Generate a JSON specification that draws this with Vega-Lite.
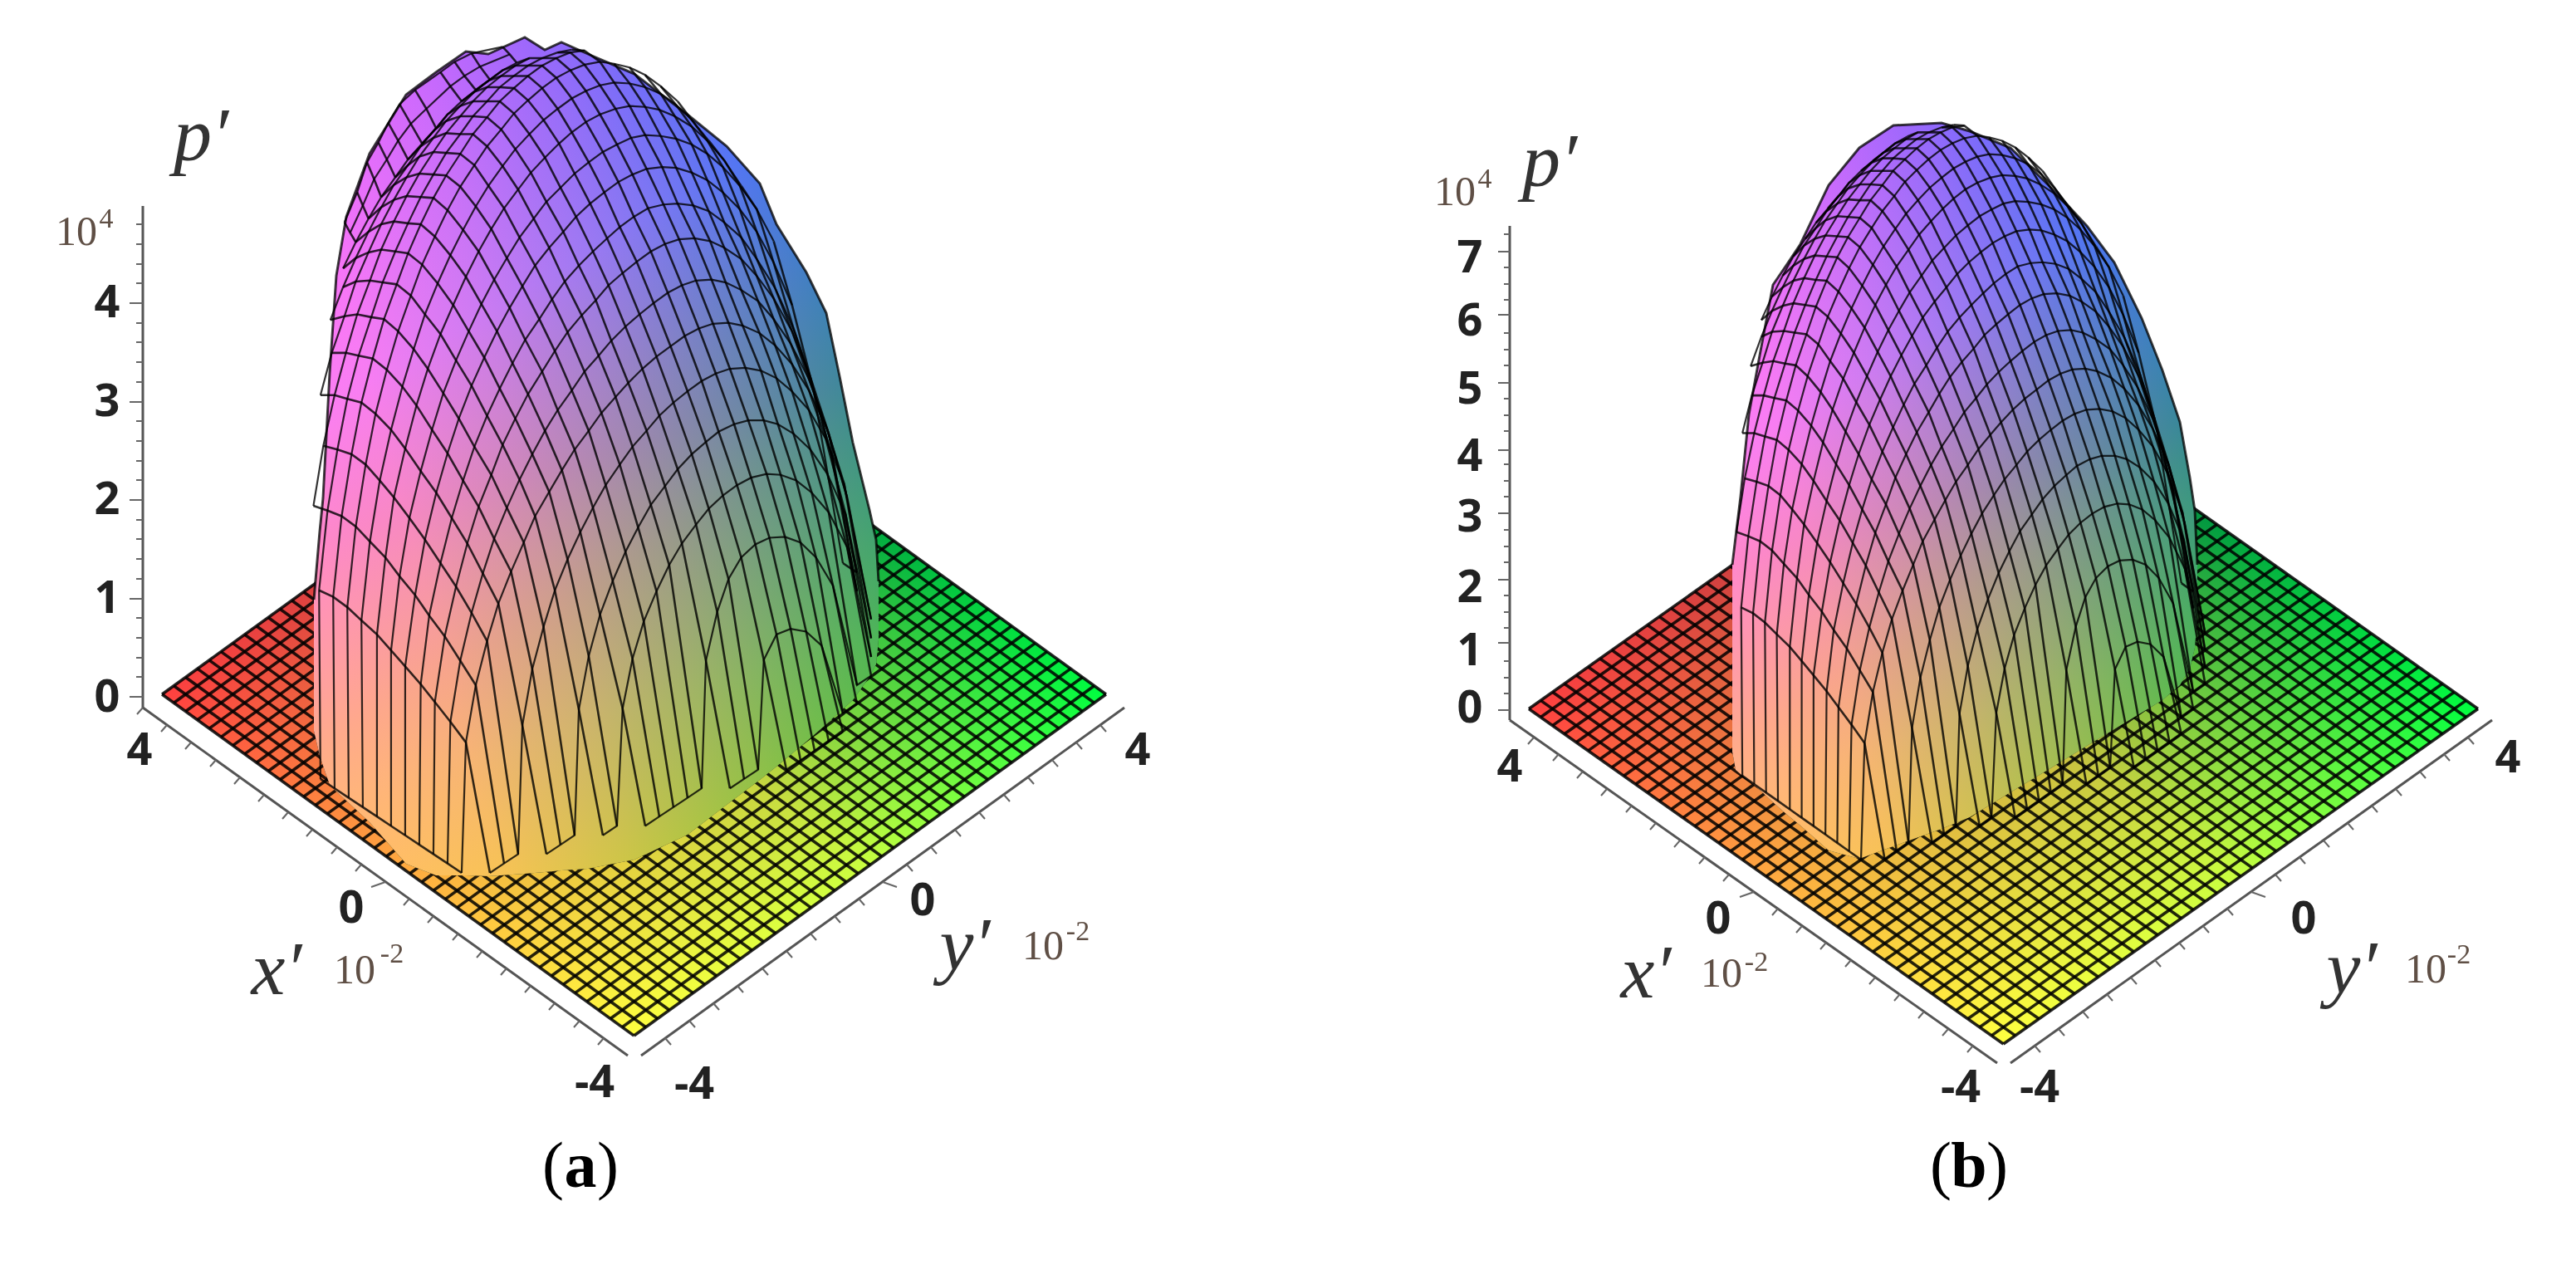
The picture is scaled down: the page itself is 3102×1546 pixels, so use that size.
{"$schema":"https://vega.github.io/schema/vega-lite/v6.json","width":3102,"height":1546,"autosize":{"type":"fit","contains":"padding"},"padding":0,"background":"white","config":{"view":{"stroke":null}},
"datasets":{
"fl":[{"u":-40,"v":0,"v2":0},{"u":0,"v":40,"v2":-40},{"u":40,"v":0,"v2":0}],
"grid":[{"u":0,"v":-40,"u2":40,"v2":0},{"u":-1,"v":-39,"u2":39,"v2":1},{"u":-2,"v":-38,"u2":38,"v2":2},{"u":-3,"v":-37,"u2":37,"v2":3},{"u":-4,"v":-36,"u2":36,"v2":4},{"u":-5,"v":-35,"u2":35,"v2":5},{"u":-6,"v":-34,"u2":34,"v2":6},{"u":-7,"v":-33,"u2":33,"v2":7},{"u":-8,"v":-32,"u2":32,"v2":8},{"u":-9,"v":-31,"u2":31,"v2":9},{"u":-10,"v":-30,"u2":30,"v2":10},{"u":-11,"v":-29,"u2":29,"v2":11},{"u":-12,"v":-28,"u2":28,"v2":12},{"u":-13,"v":-27,"u2":27,"v2":13},{"u":-14,"v":-26,"u2":26,"v2":14},{"u":-15,"v":-25,"u2":25,"v2":15},{"u":-16,"v":-24,"u2":24,"v2":16},{"u":-17,"v":-23,"u2":23,"v2":17},{"u":-18,"v":-22,"u2":22,"v2":18},{"u":-19,"v":-21,"u2":21,"v2":19},{"u":-20,"v":-20,"u2":20,"v2":20},{"u":-21,"v":-19,"u2":19,"v2":21},{"u":-22,"v":-18,"u2":18,"v2":22},{"u":-23,"v":-17,"u2":17,"v2":23},{"u":-24,"v":-16,"u2":16,"v2":24},{"u":-25,"v":-15,"u2":15,"v2":25},{"u":-26,"v":-14,"u2":14,"v2":26},{"u":-27,"v":-13,"u2":13,"v2":27},{"u":-28,"v":-12,"u2":12,"v2":28},{"u":-29,"v":-11,"u2":11,"v2":29},{"u":-30,"v":-10,"u2":10,"v2":30},{"u":-31,"v":-9,"u2":9,"v2":31},{"u":-32,"v":-8,"u2":8,"v2":32},{"u":-33,"v":-7,"u2":7,"v2":33},{"u":-34,"v":-6,"u2":6,"v2":34},{"u":-35,"v":-5,"u2":5,"v2":35},{"u":-36,"v":-4,"u2":4,"v2":36},{"u":-37,"v":-3,"u2":3,"v2":37},{"u":-38,"v":-2,"u2":2,"v2":38},{"u":-39,"v":-1,"u2":1,"v2":39},{"u":-40,"v":0,"u2":0,"v2":40},
{"u":0,"v":-40,"u2":-40,"v2":0},{"u":1,"v":-39,"u2":-39,"v2":1},{"u":2,"v":-38,"u2":-38,"v2":2},{"u":3,"v":-37,"u2":-37,"v2":3},{"u":4,"v":-36,"u2":-36,"v2":4},{"u":5,"v":-35,"u2":-35,"v2":5},{"u":6,"v":-34,"u2":-34,"v2":6},{"u":7,"v":-33,"u2":-33,"v2":7},{"u":8,"v":-32,"u2":-32,"v2":8},{"u":9,"v":-31,"u2":-31,"v2":9},{"u":10,"v":-30,"u2":-30,"v2":10},{"u":11,"v":-29,"u2":-29,"v2":11},{"u":12,"v":-28,"u2":-28,"v2":12},{"u":13,"v":-27,"u2":-27,"v2":13},{"u":14,"v":-26,"u2":-26,"v2":14},{"u":15,"v":-25,"u2":-25,"v2":15},{"u":16,"v":-24,"u2":-24,"v2":16},{"u":17,"v":-23,"u2":-23,"v2":17},{"u":18,"v":-22,"u2":-22,"v2":18},{"u":19,"v":-21,"u2":-21,"v2":19},{"u":20,"v":-20,"u2":-20,"v2":20},{"u":21,"v":-19,"u2":-19,"v2":21},{"u":22,"v":-18,"u2":-18,"v2":22},{"u":23,"v":-17,"u2":-17,"v2":23},{"u":24,"v":-16,"u2":-16,"v2":24},{"u":25,"v":-15,"u2":-15,"v2":25},{"u":26,"v":-14,"u2":-14,"v2":26},{"u":27,"v":-13,"u2":-13,"v2":27},{"u":28,"v":-12,"u2":-12,"v2":28},{"u":29,"v":-11,"u2":-11,"v2":29},{"u":30,"v":-10,"u2":-10,"v2":30},{"u":31,"v":-9,"u2":-9,"v2":31},{"u":32,"v":-8,"u2":-8,"v2":32},{"u":33,"v":-7,"u2":-7,"v2":33},{"u":34,"v":-6,"u2":-6,"v2":34},{"u":35,"v":-5,"u2":-5,"v2":35},{"u":36,"v":-4,"u2":-4,"v2":36},{"u":37,"v":-3,"u2":-3,"v2":37},{"u":38,"v":-2,"u2":-2,"v2":38},{"u":39,"v":-1,"u2":-1,"v2":39},{"u":40,"v":0,"u2":0,"v2":40}],
"mesh":[
{"i":2,"j":-9,"x":11,"y":-7},{"i":3,"j":-9,"x":12,"y":-6},{"i":4,"j":-9,"x":13,"y":-5},{"i":5,"j":-9,"x":14,"y":-4},{"i":6,"j":-9,"x":15,"y":-3},
{"i":-1,"j":-8,"x":7,"y":-9},{"i":0,"j":-8,"x":8,"y":-8},{"i":8,"j":-8,"x":16,"y":0},{"i":-6,"j":-7,"x":1,"y":-13},{"i":-5,"j":-7,"x":2,"y":-12},{"i":-4,"j":-7,"x":3,"y":-11},{"i":-3,"j":-7,"x":4,"y":-10},{"i":10,"j":-7,"x":17,"y":3},{"i":-8,"j":-6,"x":-2,"y":-14},{"i":-11,"j":-5,"x":-6,"y":-16},{"i":-10,"j":-5,"x":-5,"y":-15},{"i":-14,"j":-4,"x":-10,"y":-18},{"i":-13,"j":-4,"x":-9,"y":-17},
{"i":-15,"j":-3,"x":-12,"y":-18},{"i":-15,"j":-2,"x":-13,"y":-17},{"i":-15,"j":-1,"x":-14,"y":-16},{"i":-15,"j":0,"x":-15,"y":-15},{"i":-15,"j":1,"x":-16,"y":-14},{"i":-15,"j":2,"x":-17,"y":-13},{"i":-15,"j":3,"x":-18,"y":-12},{"i":-15,"j":4,"x":-19,"y":-11},{"i":-15,"j":5,"x":-20,"y":-10},{"i":-15,"j":6,"x":-21,"y":-9},{"i":-15,"j":7,"x":-22,"y":-8},
{"i":15,"j":-1,"x":16,"y":14},{"i":14,"j":0,"x":12.9,"y":33.6},{"i":15,"j":0,"x":15,"y":15},{"i":13,"j":1,"x":10.1,"y":47},{"i":14,"j":1,"x":11.4,"y":42.5},{"i":12,"j":2,"x":7.7,"y":55.2},{"i":13,"j":2,"x":8.9,"y":52.7},{"i":14,"j":2,"x":10.1,"y":49.3},{"i":11,"j":3,"x":5.4,"y":60},{"i":12,"j":3,"x":6.6,"y":57.9},{"i":13,"j":3,"x":7.8,"y":55.2},{"i":10,"j":4,"x":3.2,"y":63.8},{"i":11,"j":4,"x":4.3,"y":62.2},{"i":12,"j":4,"x":5.5,"y":60},{"i":9,"j":5,"x":1,"y":67},{"i":10,"j":5,"x":2.1,"y":65.8},{"i":11,"j":5,"x":3.3,"y":64.2},
{"i":2,"j":9,"x":-10.1,"y":66.4},{"i":3,"j":9,"x":-9.1,"y":67.5},{"i":4,"j":9,"x":-8.1,"y":68.3},{"i":-1,"j":10,"x":-13.9,"y":61.2},{"i":0,"j":10,"x":-13,"y":62.8},{"i":1,"j":10,"x":-12,"y":64.2},{"i":2,"j":10,"x":-11,"y":65.4},{"i":3,"j":10,"x":-10,"y":66.5},{"i":-4,"j":11,"x":-17.7,"y":54},{"i":-3,"j":11,"x":-16.7,"y":56.1},{"i":-2,"j":11,"x":-15.8,"y":58},{"i":-1,"j":11,"x":-14.8,"y":59.7},{"i":0,"j":11,"x":-13.8,"y":61.3},
{"i":1,"j":-8,"x":9,"y":-7},{"i":2,"j":-8,"x":9.4,"y":4.7},{"i":3,"j":-8,"x":10.3,"y":7.4},{"i":4,"j":-8,"x":11.3,"y":8},{"i":5,"j":-8,"x":12.4,"y":7.7},{"i":6,"j":-8,"x":13.5,"y":6.2},{"i":7,"j":-8,"x":15,"y":-1},
{"i":-2,"j":-7,"x":5,"y":-9},{"i":-1,"j":-7,"x":5.3,"y":4.6},{"i":0,"j":-7,"x":6.1,"y":9.8},{"i":1,"j":-7,"x":6.9,"y":13.3},{"i":2,"j":-7,"x":7.8,"y":15.6},{"i":3,"j":-7,"x":8.8,"y":17},{"i":4,"j":-7,"x":9.8,"y":17.7},{"i":5,"j":-7,"x":10.9,"y":17.8},{"i":6,"j":-7,"x":12,"y":17.2},{"i":7,"j":-7,"x":13.1,"y":15.6},{"i":8,"j":-7,"x":14.3,"y":12.6},{"i":9,"j":-7,"x":16,"y":2},
{"i":-7,"j":-6,"x":-1,"y":-13},{"i":-6,"j":-6,"x":-0.6,"y":-0.5},{"i":-5,"j":-6,"x":0.1,"y":4.8},{"i":-4,"j":-6,"x":0.9,"y":8.8},{"i":-3,"j":-6,"x":1.8,"y":12},{"i":-2,"j":-6,"x":2.7,"y":14.8},{"i":-1,"j":-6,"x":3.6,"y":17.1},{"i":0,"j":-6,"x":4.6,"y":19.1},{"i":1,"j":-6,"x":5.5,"y":20.8},{"i":2,"j":-6,"x":6.5,"y":22.2},{"i":3,"j":-6,"x":7.5,"y":23.3},{"i":4,"j":-6,"x":8.5,"y":24.1},{"i":5,"j":-6,"x":9.6,"y":24.5},{"i":6,"j":-6,"x":10.6,"y":24.4},{"i":7,"j":-6,"x":11.7,"y":23.8},{"i":8,"j":-6,"x":12.8,"y":22.5},{"i":9,"j":-6,"x":14,"y":20.4},{"i":10,"j":-6,"x":15.3,"y":16.7},{"i":11,"j":-6,"x":17,"y":5},
{"i":-9,"j":-5,"x":-4,"y":-14},{"i":-8,"j":-5,"x":-3.7,"y":-0.6},{"i":-7,"j":-5,"x":-3,"y":5.1},{"i":-6,"j":-5,"x":-2.2,"y":9.5},{"i":-5,"j":-5,"x":-1.3,"y":13.1},{"i":-4,"j":-5,"x":-0.4,"y":16.2},{"i":-3,"j":-5,"x":0.5,"y":18.8},{"i":-2,"j":-5,"x":1.4,"y":21.2},{"i":-1,"j":-5,"x":2.4,"y":23.2},{"i":0,"j":-5,"x":3.3,"y":25},{"i":1,"j":-5,"x":4.3,"y":26.6},{"i":2,"j":-5,"x":5.3,"y":27.9},{"i":3,"j":-5,"x":6.2,"y":29},{"i":4,"j":-5,"x":7.3,"y":29.8},{"i":5,"j":-5,"x":8.3,"y":30.2},{"i":6,"j":-5,"x":9.4,"y":30.2},{"i":7,"j":-5,"x":10.4,"y":29.8},{"i":8,"j":-5,"x":11.5,"y":28.8},{"i":9,"j":-5,"x":12.7,"y":27.1},{"i":10,"j":-5,"x":13.9,"y":24.5},{"i":11,"j":-5,"x":15.2,"y":20.2},{"i":12,"j":-5,"x":17,"y":7},
{"i":-12,"j":-4,"x":-8,"y":-16},{"i":-11,"j":-4,"x":-7.7,"y":-2.3},{"i":-10,"j":-4,"x":-7,"y":3.7},{"i":-9,"j":-4,"x":-6.2,"y":8.2},{"i":-8,"j":-4,"x":-5.4,"y":12.1},{"i":-7,"j":-4,"x":-4.5,"y":15.4},{"i":-6,"j":-4,"x":-3.6,"y":18.3},{"i":-5,"j":-4,"x":-2.7,"y":20.9},{"i":-4,"j":-4,"x":-1.8,"y":23.3},{"i":-3,"j":-4,"x":-0.8,"y":25.5},{"i":-2,"j":-4,"x":0.1,"y":27.4},{"i":-1,"j":-4,"x":1.1,"y":29.1},{"i":0,"j":-4,"x":2,"y":30.7},{"i":1,"j":-4,"x":3,"y":32.1},{"i":2,"j":-4,"x":4,"y":33.3},{"i":3,"j":-4,"x":5,"y":34.4},{"i":4,"j":-4,"x":6,"y":35.2},{"i":5,"j":-4,"x":7,"y":35.7},{"i":6,"j":-4,"x":8.1,"y":35.8},{"i":7,"j":-4,"x":9.2,"y":35.5},{"i":8,"j":-4,"x":10.3,"y":34.7},{"i":9,"j":-4,"x":11.4,"y":33.3},{"i":10,"j":-4,"x":12.6,"y":31.3},{"i":11,"j":-4,"x":13.8,"y":28.2},{"i":12,"j":-4,"x":15.1,"y":23.4},{"i":13,"j":-4,"x":17,"y":9},
{"i":-14,"j":-3,"x":-11.7,"y":-4.1},{"i":-13,"j":-3,"x":-11,"y":2},{"i":-12,"j":-3,"x":-10.2,"y":6.7},{"i":-11,"j":-3,"x":-9.4,"y":10.7},{"i":-10,"j":-3,"x":-8.5,"y":14.1},{"i":-9,"j":-3,"x":-7.6,"y":17.2},{"i":-8,"j":-3,"x":-6.8,"y":20},{"i":-7,"j":-3,"x":-5.8,"y":22.6},{"i":-6,"j":-3,"x":-4.9,"y":24.9},{"i":-5,"j":-3,"x":-4,"y":27.1},{"i":-4,"j":-3,"x":-3,"y":29.1},{"i":-3,"j":-3,"x":-2.1,"y":31},{"i":-2,"j":-3,"x":-1.1,"y":32.7},{"i":-1,"j":-3,"x":-0.2,"y":34.2},{"i":0,"j":-3,"x":0.8,"y":35.7},{"i":1,"j":-3,"x":1.8,"y":37},{"i":2,"j":-3,"x":2.8,"y":38.1},{"i":3,"j":-3,"x":3.8,"y":39.2},{"i":4,"j":-3,"x":4.8,"y":40},{"i":5,"j":-3,"x":5.8,"y":40.5},{"i":6,"j":-3,"x":6.9,"y":40.6},{"i":7,"j":-3,"x":7.9,"y":40.3},{"i":8,"j":-3,"x":9.1,"y":39.5},{"i":9,"j":-3,"x":10.2,"y":38.2},{"i":10,"j":-3,"x":11.4,"y":36.2},{"i":11,"j":-3,"x":12.6,"y":33.4},{"i":12,"j":-3,"x":13.9,"y":29.2},{"i":13,"j":-3,"x":15.3,"y":22},
{"i":-14,"j":-2,"x":-12.8,"y":-1.9},{"i":-13,"j":-2,"x":-12.1,"y":4.6},{"i":-12,"j":-2,"x":-11.3,"y":9.7},{"i":-11,"j":-2,"x":-10.5,"y":13.9},{"i":-10,"j":-2,"x":-9.7,"y":17.6},{"i":-9,"j":-2,"x":-8.8,"y":20.9},{"i":-8,"j":-2,"x":-7.9,"y":23.9},{"i":-7,"j":-2,"x":-7,"y":26.6},{"i":-6,"j":-2,"x":-6.1,"y":29.1},{"i":-5,"j":-2,"x":-5.2,"y":31.3},{"i":-4,"j":-2,"x":-4.2,"y":33.4},{"i":-3,"j":-2,"x":-3.3,"y":35.4},{"i":-2,"j":-2,"x":-2.3,"y":37.1},{"i":-1,"j":-2,"x":-1.4,"y":38.7},{"i":0,"j":-2,"x":-0.4,"y":40.2},{"i":1,"j":-2,"x":0.6,"y":41.5},{"i":2,"j":-2,"x":1.6,"y":42.7},{"i":3,"j":-2,"x":2.6,"y":43.8},{"i":4,"j":-2,"x":3.6,"y":44.6},{"i":5,"j":-2,"x":4.6,"y":45.1},{"i":6,"j":-2,"x":5.7,"y":45.2},{"i":7,"j":-2,"x":6.7,"y":44.9},{"i":8,"j":-2,"x":7.8,"y":44.1},{"i":9,"j":-2,"x":9,"y":42.9},{"i":10,"j":-2,"x":10.1,"y":41},{"i":11,"j":-2,"x":11.3,"y":38.4},{"i":12,"j":-2,"x":12.6,"y":34.6},{"i":13,"j":-2,"x":14,"y":28.8},{"i":14,"j":-2,"x":16,"y":12},
{"i":-14,"j":-1,"x":-13.9,"y":0.2},{"i":-13,"j":-1,"x":-13.2,"y":7.2},{"i":-12,"j":-1,"x":-12.4,"y":12.5},{"i":-11,"j":-1,"x":-11.6,"y":17.1},{"i":-10,"j":-1,"x":-10.8,"y":21},{"i":-9,"j":-1,"x":-9.9,"y":24.4},{"i":-8,"j":-1,"x":-9.1,"y":27.6},{"i":-7,"j":-1,"x":-8.2,"y":30.4},{"i":-6,"j":-1,"x":-7.3,"y":33},{"i":-5,"j":-1,"x":-6.3,"y":35.4},{"i":-4,"j":-1,"x":-5.4,"y":37.6},{"i":-3,"j":-1,"x":-4.5,"y":39.6},{"i":-2,"j":-1,"x":-3.5,"y":41.4},{"i":-1,"j":-1,"x":-2.5,"y":43},{"i":0,"j":-1,"x":-1.6,"y":44.6},{"i":1,"j":-1,"x":-0.6,"y":45.9},{"i":2,"j":-1,"x":0.4,"y":47.1},{"i":3,"j":-1,"x":1.4,"y":48.2},{"i":4,"j":-1,"x":2.4,"y":49},{"i":5,"j":-1,"x":3.4,"y":49.5},{"i":6,"j":-1,"x":4.5,"y":49.6},{"i":7,"j":-1,"x":5.6,"y":49.3},{"i":8,"j":-1,"x":6.6,"y":48.6},{"i":9,"j":-1,"x":7.8,"y":47.4},{"i":10,"j":-1,"x":8.9,"y":45.6},{"i":11,"j":-1,"x":10.1,"y":43.2},{"i":12,"j":-1,"x":11.4,"y":39.7},{"i":13,"j":-1,"x":12.7,"y":34.8},{"i":14,"j":-1,"x":14.2,"y":26.4},
{"i":-14,"j":0,"x":-14.9,"y":2.1},{"i":-13,"j":0,"x":-14.3,"y":9.4},{"i":-12,"j":0,"x":-13.5,"y":15},{"i":-11,"j":0,"x":-12.7,"y":19.8},{"i":-10,"j":0,"x":-11.9,"y":23.8},{"i":-9,"j":0,"x":-11.1,"y":27.4},{"i":-8,"j":0,"x":-10.2,"y":30.7},{"i":-7,"j":0,"x":-9.3,"y":33.6},{"i":-6,"j":0,"x":-8.4,"y":36.3},{"i":-5,"j":0,"x":-7.5,"y":38.8},{"i":-4,"j":0,"x":-6.5,"y":41},{"i":-3,"j":0,"x":-5.6,"y":43.1},{"i":-2,"j":0,"x":-4.7,"y":45},{"i":-1,"j":0,"x":-3.7,"y":46.7},{"i":0,"j":0,"x":-2.7,"y":48.2},{"i":1,"j":0,"x":-1.7,"y":49.6},{"i":2,"j":0,"x":-0.8,"y":50.8},{"i":3,"j":0,"x":0.2,"y":51.9},{"i":4,"j":0,"x":1.2,"y":52.8},{"i":5,"j":0,"x":2.3,"y":53.2},{"i":6,"j":0,"x":3.3,"y":53.3},{"i":7,"j":0,"x":4.4,"y":53.1},{"i":8,"j":0,"x":5.5,"y":52.5},{"i":9,"j":0,"x":6.6,"y":51.3},{"i":10,"j":0,"x":7.8,"y":49.7},{"i":11,"j":0,"x":8.9,"y":47.4},{"i":12,"j":0,"x":10.2,"y":44.3},{"i":13,"j":0,"x":11.5,"y":40},
{"i":-14,"j":1,"x":-16,"y":4},{"i":-13,"j":1,"x":-15.3,"y":11.6},{"i":-12,"j":1,"x":-14.6,"y":17.5},{"i":-11,"j":1,"x":-13.8,"y":22.5},{"i":-10,"j":1,"x":-13,"y":26.7},{"i":-9,"j":1,"x":-12.2,"y":30.4},{"i":-8,"j":1,"x":-11.3,"y":33.9},{"i":-7,"j":1,"x":-10.4,"y":36.9},{"i":-6,"j":1,"x":-9.5,"y":39.7},{"i":-5,"j":1,"x":-8.6,"y":42.2},{"i":-4,"j":1,"x":-7.7,"y":44.5},{"i":-3,"j":1,"x":-6.8,"y":46.7},{"i":-2,"j":1,"x":-5.8,"y":48.6},{"i":-1,"j":1,"x":-4.8,"y":50.3},{"i":0,"j":1,"x":-3.9,"y":51.9},{"i":1,"j":1,"x":-2.9,"y":53.3},{"i":2,"j":1,"x":-1.9,"y":54.5},{"i":3,"j":1,"x":-0.9,"y":55.6},{"i":4,"j":1,"x":0.1,"y":56.4},{"i":5,"j":1,"x":1.1,"y":57},{"i":6,"j":1,"x":2.2,"y":57.2},{"i":7,"j":1,"x":3.2,"y":57.1},{"i":8,"j":1,"x":4.3,"y":56.6},{"i":9,"j":1,"x":5.4,"y":55.8},{"i":10,"j":1,"x":6.5,"y":54.5},{"i":11,"j":1,"x":7.7,"y":52.7},{"i":12,"j":1,"x":8.9,"y":50.3},
{"i":-14,"j":2,"x":-17,"y":5.7},{"i":-13,"j":2,"x":-16.4,"y":13.6},{"i":-12,"j":2,"x":-15.7,"y":19.8},{"i":-11,"j":2,"x":-14.9,"y":24.8},{"i":-10,"j":2,"x":-14.1,"y":29.2},{"i":-9,"j":2,"x":-13.3,"y":33.1},{"i":-8,"j":2,"x":-12.4,"y":36.6},{"i":-7,"j":2,"x":-11.5,"y":39.7},{"i":-6,"j":2,"x":-10.6,"y":42.6},{"i":-5,"j":2,"x":-9.7,"y":45.2},{"i":-4,"j":2,"x":-8.8,"y":47.5},{"i":-3,"j":2,"x":-7.9,"y":49.7},{"i":-2,"j":2,"x":-6.9,"y":51.7},{"i":-1,"j":2,"x":-6,"y":53.5},{"i":0,"j":2,"x":-5,"y":55},{"i":1,"j":2,"x":-4,"y":56.5},{"i":2,"j":2,"x":-3,"y":57.7},{"i":3,"j":2,"x":-2,"y":58.8},{"i":4,"j":2,"x":-1,"y":59.6},{"i":5,"j":2,"x":0,"y":60.3},{"i":6,"j":2,"x":1,"y":60.6},{"i":7,"j":2,"x":2.1,"y":60.5},{"i":8,"j":2,"x":3.2,"y":60.2},{"i":9,"j":2,"x":4.3,"y":59.6},{"i":10,"j":2,"x":5.4,"y":58.6},{"i":11,"j":2,"x":6.5,"y":57.2},
{"i":-14,"j":3,"x":-18,"y":7.4},{"i":-13,"j":3,"x":-17.4,"y":15.6},{"i":-12,"j":3,"x":-16.8,"y":22},{"i":-11,"j":3,"x":-16,"y":27.2},{"i":-10,"j":3,"x":-15.2,"y":31.8},{"i":-9,"j":3,"x":-14.4,"y":35.7},{"i":-8,"j":3,"x":-13.5,"y":39.4},{"i":-7,"j":3,"x":-12.6,"y":42.5},{"i":-6,"j":3,"x":-11.7,"y":45.5},{"i":-5,"j":3,"x":-10.8,"y":48.2},{"i":-4,"j":3,"x":-9.9,"y":50.6},{"i":-3,"j":3,"x":-9,"y":52.8},{"i":-2,"j":3,"x":-8,"y":54.8},{"i":-1,"j":3,"x":-7.1,"y":56.6},{"i":0,"j":3,"x":-6.1,"y":58.2},{"i":1,"j":3,"x":-5.1,"y":59.7},{"i":2,"j":3,"x":-4.2,"y":60.9},{"i":3,"j":3,"x":-3.2,"y":62},{"i":4,"j":3,"x":-2.2,"y":62.8},{"i":5,"j":3,"x":-1.1,"y":63.4},{"i":6,"j":3,"x":-0.1,"y":63.7},{"i":7,"j":3,"x":1,"y":63.6},{"i":8,"j":3,"x":2,"y":63.3},{"i":9,"j":3,"x":3.1,"y":62.6},{"i":10,"j":3,"x":4.3,"y":61.5},
{"i":-14,"j":4,"x":-19.1,"y":8.9},{"i":-13,"j":4,"x":-18.5,"y":17.3},{"i":-12,"j":4,"x":-17.8,"y":23.8},{"i":-11,"j":4,"x":-17,"y":29.2},{"i":-10,"j":4,"x":-16.2,"y":33.8},{"i":-9,"j":4,"x":-15.4,"y":37.8},{"i":-8,"j":4,"x":-14.6,"y":41.5},{"i":-7,"j":4,"x":-13.7,"y":44.8},{"i":-6,"j":4,"x":-12.8,"y":47.8},{"i":-5,"j":4,"x":-11.9,"y":50.5},{"i":-4,"j":4,"x":-11,"y":53},{"i":-3,"j":4,"x":-10.1,"y":55.2},{"i":-2,"j":4,"x":-9.1,"y":57.3},{"i":-1,"j":4,"x":-8.2,"y":59.1},{"i":0,"j":4,"x":-7.2,"y":60.7},{"i":1,"j":4,"x":-6.2,"y":62.2},{"i":2,"j":4,"x":-5.2,"y":63.4},{"i":3,"j":4,"x":-4.2,"y":64.5},{"i":4,"j":4,"x":-3.2,"y":65.3},{"i":5,"j":4,"x":-2.2,"y":65.9},{"i":6,"j":4,"x":-1.2,"y":66.2},{"i":7,"j":4,"x":-0.1,"y":66.1},{"i":8,"j":4,"x":1,"y":65.7},{"i":9,"j":4,"x":2.1,"y":65},
{"i":-14,"j":5,"x":-20.1,"y":10.3},{"i":-13,"j":5,"x":-19.5,"y":18.9},{"i":-12,"j":5,"x":-18.8,"y":25.5},{"i":-11,"j":5,"x":-18.1,"y":30.9},{"i":-10,"j":5,"x":-17.3,"y":35.6},{"i":-9,"j":5,"x":-16.5,"y":39.7},{"i":-8,"j":5,"x":-15.6,"y":43.5},{"i":-7,"j":5,"x":-14.8,"y":46.8},{"i":-6,"j":5,"x":-13.9,"y":49.8},{"i":-5,"j":5,"x":-13,"y":52.6},{"i":-4,"j":5,"x":-12.1,"y":55.1},{"i":-3,"j":5,"x":-11.1,"y":57.4},{"i":-2,"j":5,"x":-10.2,"y":59.4},{"i":-1,"j":5,"x":-9.2,"y":61.2},{"i":0,"j":5,"x":-8.3,"y":62.9},{"i":1,"j":5,"x":-7.3,"y":64.3},{"i":2,"j":5,"x":-6.3,"y":65.6},{"i":3,"j":5,"x":-5.3,"y":66.7},{"i":4,"j":5,"x":-4.3,"y":67.5},{"i":5,"j":5,"x":-3.3,"y":68.1},{"i":6,"j":5,"x":-2.2,"y":68.4},{"i":7,"j":5,"x":-1.2,"y":68.2},{"i":8,"j":5,"x":-0.1,"y":67.8},
{"i":-14,"j":6,"x":-21.1,"y":11.4},{"i":-13,"j":6,"x":-20.5,"y":20},{"i":-12,"j":6,"x":-19.8,"y":26.6},{"i":-11,"j":6,"x":-19.1,"y":32.1},{"i":-10,"j":6,"x":-18.3,"y":36.8},{"i":-9,"j":6,"x":-17.5,"y":41},{"i":-8,"j":6,"x":-16.6,"y":44.7},{"i":-7,"j":6,"x":-15.8,"y":48},{"i":-6,"j":6,"x":-14.9,"y":51.1},{"i":-5,"j":6,"x":-14,"y":53.9},{"i":-4,"j":6,"x":-13.1,"y":56.3},{"i":-3,"j":6,"x":-12.1,"y":58.6},{"i":-2,"j":6,"x":-11.2,"y":60.7},{"i":-1,"j":6,"x":-10.2,"y":62.5},{"i":0,"j":6,"x":-9.3,"y":64.2},{"i":1,"j":6,"x":-8.3,"y":65.6},{"i":2,"j":6,"x":-7.3,"y":66.9},{"i":3,"j":6,"x":-6.3,"y":68},{"i":4,"j":6,"x":-5.3,"y":68.8},{"i":5,"j":6,"x":-4.3,"y":69.4},{"i":6,"j":6,"x":-3.3,"y":69.6},
{"i":-14,"j":7,"x":-22.1,"y":12.1},{"i":-13,"j":7,"x":-21.5,"y":20.6},{"i":-12,"j":7,"x":-20.8,"y":27.1},{"i":-11,"j":7,"x":-20.1,"y":32.5},{"i":-10,"j":7,"x":-19.3,"y":37.1},{"i":-9,"j":7,"x":-18.4,"y":41.2},{"i":-8,"j":7,"x":-17.6,"y":44.9},{"i":-7,"j":7,"x":-16.7,"y":48.2},{"i":-6,"j":7,"x":-15.8,"y":51.2},{"i":-5,"j":7,"x":-14.9,"y":54},{"i":-4,"j":7,"x":-14,"y":56.4},{"i":-3,"j":7,"x":-13.1,"y":58.7},{"i":-2,"j":7,"x":-12.1,"y":60.7},{"i":-1,"j":7,"x":-11.2,"y":62.6},{"i":0,"j":7,"x":-10.2,"y":64.2},{"i":1,"j":7,"x":-9.3,"y":65.7},{"i":2,"j":7,"x":-8.3,"y":66.9},{"i":3,"j":7,"x":-7.3,"y":68},{"i":4,"j":7,"x":-6.3,"y":68.8},{"i":5,"j":7,"x":-5.2,"y":69.4},{"i":6,"j":7,"x":-4.2,"y":69.7},
{"i":-13,"j":8,"x":-22.5,"y":21.1},{"i":-12,"j":8,"x":-21.8,"y":27.5},{"i":-11,"j":8,"x":-21,"y":32.9},{"i":-10,"j":8,"x":-20.2,"y":37.4},{"i":-9,"j":8,"x":-19.4,"y":41.5},{"i":-8,"j":8,"x":-18.5,"y":45.1},{"i":-7,"j":8,"x":-17.7,"y":48.4},{"i":-6,"j":8,"x":-16.8,"y":51.4},{"i":-5,"j":8,"x":-15.9,"y":54.1},{"i":-4,"j":8,"x":-15,"y":56.5},{"i":-3,"j":8,"x":-14,"y":58.8},{"i":-2,"j":8,"x":-13.1,"y":60.8},{"i":-1,"j":8,"x":-12.1,"y":62.6},{"i":0,"j":8,"x":-11.2,"y":64.2},{"i":1,"j":8,"x":-10.2,"y":65.7},{"i":2,"j":8,"x":-9.2,"y":66.9},{"i":3,"j":8,"x":-8.2,"y":68},{"i":4,"j":8,"x":-7.2,"y":68.8},
{"i":-11,"j":9,"x":-22,"y":32.9},{"i":-10,"j":9,"x":-21.2,"y":37.4},{"i":-9,"j":9,"x":-20.3,"y":41.3},{"i":-8,"j":9,"x":-19.5,"y":45},{"i":-7,"j":9,"x":-18.6,"y":48.1},{"i":-6,"j":9,"x":-17.7,"y":51.1},{"i":-5,"j":9,"x":-16.8,"y":53.7},{"i":-4,"j":9,"x":-15.9,"y":56.1},{"i":-3,"j":9,"x":-15,"y":58.3},{"i":-2,"j":9,"x":-14,"y":60.3},{"i":-1,"j":9,"x":-13.1,"y":62.1},{"i":0,"j":9,"x":-12.1,"y":63.7},{"i":1,"j":9,"x":-11.1,"y":65.2},
{"i":-9,"j":10,"x":-21.3,"y":40.9},{"i":-8,"j":10,"x":-20.4,"y":44.4},{"i":-7,"j":10,"x":-19.5,"y":47.5},{"i":-6,"j":10,"x":-18.6,"y":50.3},{"i":-5,"j":10,"x":-17.7,"y":52.9},{"i":-4,"j":10,"x":-16.8,"y":55.3},{"i":-3,"j":10,"x":-15.8,"y":57.4},{"i":-2,"j":10,"x":-14.9,"y":59.4},
{"i":-7,"j":11,"x":-20.4,"y":46.4},{"i":-6,"j":11,"x":-19.5,"y":49.2},{"i":-5,"j":11,"x":-18.6,"y":51.7}],
"a2":[{"i":-6,"j":11,"x":-19.5,"y":49.2},{"i":-5,"j":11,"x":-18.6,"y":51.7},{"i":-4,"j":11,"x":-17.7,"y":54},{"i":-3,"j":11,"x":-16.7,"y":56.1},{"i":-2,"j":11,"x":-15.8,"y":58},{"i":-1,"j":11,"x":-14.8,"y":59.7},{"i":0,"j":11,"x":-13.8,"y":61.3},{"i":1,"j":10,"x":-12,"y":64.2},{"i":2,"j":10,"x":-11,"y":65.4},{"i":3,"j":10,"x":-10,"y":66.5},{"i":4,"j":9,"x":-8.1,"y":68.3},
{"i":-6,"j":21,"x":-19.9,"y":50.2},{"i":-5,"j":21,"x":-19,"y":53.1},{"i":-4,"j":21,"x":-18.2,"y":55.9},{"i":-3,"j":21,"x":-17.3,"y":58},{"i":-2,"j":21,"x":-16.5,"y":60},{"i":-1,"j":21,"x":-15.6,"y":61.8},{"i":0,"j":21,"x":-14.5,"y":63.4},{"i":1,"j":21,"x":-12.8,"y":65.8},{"i":2,"j":21,"x":-11.8,"y":66.9},{"i":3,"j":21,"x":-10.7,"y":67.9},{"i":4,"j":21,"x":-8.6,"y":69.2},
{"i":-6,"j":22,"x":-20.3,"y":51.3},{"i":-5,"j":22,"x":-19.4,"y":54.5},{"i":-4,"j":22,"x":-18.7,"y":57.7},{"i":-3,"j":22,"x":-17.9,"y":59.8},{"i":-2,"j":22,"x":-17.2,"y":61.9},{"i":-1,"j":22,"x":-16.4,"y":63.9},{"i":0,"j":22,"x":-15.3,"y":65.4},{"i":1,"j":22,"x":-13.5,"y":67.3},{"i":2,"j":22,"x":-12.5,"y":68.4},{"i":3,"j":22,"x":-11.3,"y":69.3},{"i":4,"j":22,"x":-9.1,"y":70}],
"da":[{"x":378,"y":722,"y2":880},{"x":385,"y":640,"y2":910},{"x":389,"y":600,"y2":922},{"x":397,"y":449,"y2":945},{"x":405,"y":332,"y2":953},{"x":417,"y":261,"y2":964},{"x":445,"y":185,"y2":990},{"x":489,"y":114,"y2":1040},{"x":525,"y":87,"y2":1054},{"x":561,"y":62,"y2":1054},{"x":588,"y":65,"y2":1055},{"x":632,"y":45,"y2":1052},{"x":656,"y":60,"y2":1050},{"x":676,"y":51,"y2":1048},{"x":708,"y":65,"y2":1046},{"x":764,"y":89,"y2":1035},{"x":828,"y":138,"y2":1005},{"x":875,"y":176,"y2":969},{"x":915,"y":221,"y2":939},{"x":935,"y":270,"y2":923},{"x":971,"y":328,"y2":893},{"x":995,"y":377,"y2":872},{"x":1011,"y":453,"y2":857},{"x":1027,"y":533,"y2":843},{"x":1047,"y":614,"y2":815},{"x":1055,"y":650,"y2":800},{"x":1058,"y":700,"y2":770}],
"db":[{"x":2086,"y":680,"y2":905},{"x":2090,"y":647,"y2":927},{"x":2096,"y":598,"y2":932},{"x":2106,"y":499,"y2":940},{"x":2119,"y":428,"y2":951},{"x":2135,"y":343,"y2":966},{"x":2152,"y":318,"y2":981},{"x":2168,"y":294,"y2":994},{"x":2202,"y":223,"y2":1024},{"x":2239,"y":178,"y2":1034},{"x":2280,"y":151,"y2":1019},{"x":2338,"y":148,"y2":998},{"x":2372,"y":158,"y2":984},{"x":2421,"y":178,"y2":954},{"x":2471,"y":227,"y2":924},{"x":2513,"y":272,"y2":898},{"x":2546,"y":316,"y2":878},{"x":2579,"y":383,"y2":858},{"x":2604,"y":446,"y2":843},{"x":2625,"y":508,"y2":825},{"x":2637,"y":575,"y2":805},{"x":2643,"y":615,"y2":780},{"x":2646,"y":680,"y2":740}],
"lab":[{"x":129,"y":366,"t":"4"},{"x":129,"y":485,"t":"3"},{"x":129,"y":603,"t":"2"},{"x":129,"y":722,"t":"1"},{"x":129,"y":841,"t":"0"},{"x":168,"y":905,"t":"4"},{"x":423,"y":1095,"t":"0"},{"x":716,"y":1305,"t":"-4"},{"x":836,"y":1307,"t":"-4"},{"x":1111,"y":1086,"t":"0"},{"x":1370,"y":905,"t":"4"},{"x":1770,"y":312,"t":"7"},{"x":1770,"y":388,"t":"6"},{"x":1770,"y":470,"t":"5"},{"x":1770,"y":551,"t":"4"},{"x":1770,"y":624,"t":"3"},{"x":1770,"y":709,"t":"2"},{"x":1770,"y":785,"t":"1"},{"x":1770,"y":854,"t":"0"},{"x":1818,"y":925,"t":"4"},{"x":2069,"y":1108,"t":"0"},{"x":2361,"y":1311,"t":"-4"},{"x":2456,"y":1311,"t":"-4"},{"x":2774,"y":1108,"t":"0"},{"x":3020,"y":914,"t":"4"}],
"ten":[{"x":92,"y":280,"t":"10"},{"x":427,"y":1169,"t":"10"},{"x":1256,"y":1140,"t":"10"},{"x":1752,"y":232,"t":"10"},{"x":2073,"y":1173,"t":"10"},{"x":2921,"y":1168,"t":"10"}],
"exp":[{"x":128,"y":264,"t":"4"},{"x":472,"y":1149,"t":"-2"},{"x":1298,"y":1122,"t":"-2"},{"x":1788,"y":216,"t":"4"},{"x":2115,"y":1159,"t":"-2"},{"x":2961,"y":1150,"t":"-2"}],
"nm":[{"x":242,"y":165,"t":"p′"},{"x":333,"y":1169,"t":"x′"},{"x":1162,"y":1140,"t":"y′"},{"x":1866,"y":196,"t":"p′"},{"x":1982,"y":1173,"t":"x′"},{"x":2832,"y":1168,"t":"y′"}],
"cap":[{"x":666,"y":1406,"t":"("},{"x":732,"y":1406,"t":")"},{"x":2337,"y":1406,"t":"("},{"x":2405,"y":1406,"t":")"}],
"capb":[{"x":699,"y":1406,"t":"a"},{"x":2371,"y":1406,"t":"b"}],
"ax":[{"x":172,"y":248,"x2":172,"y2":852},{"x":172,"y":852,"x2":756,"y2":1271},{"x":772,"y":1271,"x2":1354,"y2":852},{"x":1818,"y":272,"x2":1818,"y2":867},{"x":1818,"y":867,"x2":2405,"y2":1280},{"x":2421,"y":1280,"x2":3001,"y2":867}],
"tk":[{"x":172,"y":839,"x2":156,"y2":839},{"x":172,"y":815,"x2":164,"y2":815},{"x":172,"y":792,"x2":164,"y2":792},{"x":172,"y":768,"x2":164,"y2":768},{"x":172,"y":744,"x2":164,"y2":744},{"x":172,"y":721,"x2":156,"y2":721},{"x":172,"y":697,"x2":164,"y2":697},{"x":172,"y":673,"x2":164,"y2":673},{"x":172,"y":649,"x2":164,"y2":649},{"x":172,"y":626,"x2":164,"y2":626},{"x":172,"y":602,"x2":156,"y2":602},{"x":172,"y":578,"x2":164,"y2":578},{"x":172,"y":555,"x2":164,"y2":555},{"x":172,"y":531,"x2":164,"y2":531},{"x":172,"y":507,"x2":164,"y2":507},{"x":172,"y":484,"x2":156,"y2":484},{"x":172,"y":460,"x2":164,"y2":460},{"x":172,"y":436,"x2":164,"y2":436},{"x":172,"y":412,"x2":164,"y2":412},{"x":172,"y":389,"x2":164,"y2":389},{"x":172,"y":365,"x2":156,"y2":365},{"x":172,"y":341,"x2":164,"y2":341},{"x":172,"y":318,"x2":164,"y2":318},{"x":172,"y":294,"x2":164,"y2":294},{"x":172,"y":270,"x2":164,"y2":270},
{"x":172,"y":852,"x2":165,"y2":860},{"x":201,"y":873,"x2":194,"y2":881},{"x":230,"y":894,"x2":223,"y2":902},{"x":260,"y":915,"x2":253,"y2":923},{"x":289,"y":936,"x2":282,"y2":944},{"x":318,"y":957,"x2":311,"y2":965},{"x":347,"y":978,"x2":340,"y2":986},{"x":376,"y":999,"x2":369,"y2":1007},{"x":406,"y":1020,"x2":399,"y2":1028},{"x":435,"y":1041,"x2":428,"y2":1049},{"x":464,"y":1062,"x2":447,"y2":1068},{"x":493,"y":1082,"x2":486,"y2":1090},{"x":522,"y":1103,"x2":515,"y2":1111},{"x":552,"y":1124,"x2":545,"y2":1132},{"x":581,"y":1145,"x2":574,"y2":1153},{"x":610,"y":1166,"x2":603,"y2":1174},{"x":639,"y":1187,"x2":632,"y2":1195},{"x":668,"y":1208,"x2":661,"y2":1216},{"x":698,"y":1229,"x2":691,"y2":1237},{"x":727,"y":1250,"x2":720,"y2":1258},
{"x":801,"y":1250,"x2":808,"y2":1258},{"x":830,"y":1229,"x2":837,"y2":1237},{"x":859,"y":1208,"x2":866,"y2":1216},{"x":888,"y":1187,"x2":895,"y2":1195},{"x":918,"y":1166,"x2":925,"y2":1174},{"x":947,"y":1145,"x2":954,"y2":1153},{"x":976,"y":1124,"x2":983,"y2":1132},{"x":1005,"y":1103,"x2":1012,"y2":1111},{"x":1034,"y":1082,"x2":1041,"y2":1090},{"x":1063,"y":1062,"x2":1080,"y2":1068},{"x":1092,"y":1041,"x2":1099,"y2":1049},{"x":1121,"y":1020,"x2":1128,"y2":1028},{"x":1150,"y":999,"x2":1157,"y2":1007},{"x":1179,"y":978,"x2":1186,"y2":986},{"x":1209,"y":957,"x2":1216,"y2":965},{"x":1238,"y":936,"x2":1245,"y2":944},{"x":1267,"y":915,"x2":1274,"y2":923},{"x":1296,"y":894,"x2":1303,"y2":902},{"x":1325,"y":873,"x2":1332,"y2":881},
{"x":1818,"y":855,"x2":1804,"y2":855},{"x":1818,"y":835,"x2":1811,"y2":835},{"x":1818,"y":816,"x2":1811,"y2":816},{"x":1818,"y":796,"x2":1811,"y2":796},{"x":1818,"y":774,"x2":1804,"y2":774},{"x":1818,"y":756,"x2":1811,"y2":756},{"x":1818,"y":737,"x2":1811,"y2":737},{"x":1818,"y":717,"x2":1811,"y2":717},{"x":1818,"y":698,"x2":1804,"y2":698},{"x":1818,"y":677,"x2":1811,"y2":677},{"x":1818,"y":658,"x2":1811,"y2":658},{"x":1818,"y":638,"x2":1811,"y2":638},{"x":1818,"y":618,"x2":1804,"y2":618},{"x":1818,"y":598,"x2":1811,"y2":598},{"x":1818,"y":579,"x2":1811,"y2":579},{"x":1818,"y":559,"x2":1811,"y2":559},{"x":1818,"y":542,"x2":1804,"y2":542},{"x":1818,"y":519,"x2":1811,"y2":519},{"x":1818,"y":500,"x2":1811,"y2":500},{"x":1818,"y":480,"x2":1811,"y2":480},{"x":1818,"y":461,"x2":1804,"y2":461},{"x":1818,"y":440,"x2":1811,"y2":440},{"x":1818,"y":421,"x2":1811,"y2":421},{"x":1818,"y":401,"x2":1811,"y2":401},{"x":1818,"y":379,"x2":1804,"y2":379},{"x":1818,"y":361,"x2":1811,"y2":361},{"x":1818,"y":342,"x2":1811,"y2":342},{"x":1818,"y":322,"x2":1811,"y2":322},{"x":1818,"y":303,"x2":1804,"y2":303},{"x":1818,"y":282,"x2":1811,"y2":282},
{"x":1847,"y":888,"x2":1840,"y2":896},{"x":1877,"y":908,"x2":1870,"y2":916},{"x":1906,"y":929,"x2":1899,"y2":937},{"x":1935,"y":950,"x2":1928,"y2":958},{"x":1965,"y":970,"x2":1958,"y2":978},{"x":1994,"y":991,"x2":1987,"y2":999},{"x":2023,"y":1012,"x2":2016,"y2":1020},{"x":2053,"y":1032,"x2":2046,"y2":1040},{"x":2082,"y":1053,"x2":2075,"y2":1061},{"x":2112,"y":1074,"x2":2095,"y2":1080},{"x":2141,"y":1094,"x2":2134,"y2":1102},{"x":2170,"y":1115,"x2":2163,"y2":1123},{"x":2199,"y":1135,"x2":2192,"y2":1143},{"x":2229,"y":1156,"x2":2222,"y2":1164},{"x":2258,"y":1177,"x2":2251,"y2":1185},{"x":2288,"y":1197,"x2":2281,"y2":1205},{"x":2317,"y":1218,"x2":2310,"y2":1226},{"x":2346,"y":1239,"x2":2339,"y2":1247},{"x":2376,"y":1259,"x2":2369,"y2":1267},
{"x":2450,"y":1259,"x2":2457,"y2":1267},{"x":2479,"y":1239,"x2":2486,"y2":1247},{"x":2508,"y":1218,"x2":2515,"y2":1226},{"x":2537,"y":1197,"x2":2544,"y2":1205},{"x":2566,"y":1177,"x2":2573,"y2":1185},{"x":2595,"y":1156,"x2":2602,"y2":1164},{"x":2624,"y":1135,"x2":2631,"y2":1143},{"x":2653,"y":1115,"x2":2660,"y2":1123},{"x":2682,"y":1094,"x2":2689,"y2":1102},{"x":2711,"y":1074,"x2":2728,"y2":1080},{"x":2740,"y":1053,"x2":2747,"y2":1061},{"x":2769,"y":1032,"x2":2776,"y2":1040},{"x":2798,"y":1012,"x2":2805,"y2":1020},{"x":2827,"y":991,"x2":2834,"y2":999},{"x":2856,"y":970,"x2":2863,"y2":978},{"x":2885,"y":950,"x2":2892,"y2":958},{"x":2914,"y":929,"x2":2921,"y2":937},{"x":2943,"y":908,"x2":2950,"y2":916},{"x":2972,"y":888,"x2":2979,"y2":896}]
},
"resolve":{"scale":{"x":"independent","y":"independent"}},
"layer":[
{"encoding":{"x":{"field":"u","type":"quantitative","axis":null,"scale":{"domain":[-53.73,164.57],"nice":false,"zero":false}},"y":{"field":"v","type":"quantitative","axis":null,"scale":{"domain":[-69.1,81.36],"nice":false,"zero":false}}},
"layer":[{"data":{"name":"fl"},"encoding":{"y2":{"field":"v2"}},"layer":[{"mark":{"type":"area","fill":"#000000"}},
{"mark":{"type":"area","blend":"screen","fill":{"gradient":"linear","x1":0.75,"y1":0.25,"x2":0.25,"y2":0.75,"stops":[{"offset":0,"color":"#000000"},{"offset":0.5,"color":"#c80000"},{"offset":1,"color":"#ff0000"}]}}},
{"mark":{"type":"area","blend":"screen","fill":{"gradient":"linear","x1":0.25,"y1":0.25,"x2":0.75,"y2":0.75,"stops":[{"offset":0,"color":"#004000"},{"offset":0.5,"color":"#00a800"},{"offset":1,"color":"#00ff00"}]}}},
{"mark":{"type":"area","blend":"screen","fill":"#000040"}}]},
{"data":{"name":"grid"},"mark":{"type":"rule","color":"#000000","strokeWidth":3.6,"opacity":0.85},"encoding":{"x2":{"field":"u2"},"y2":{"field":"v2"}}}]},
{"encoding":{"x":{"field":"u","type":"quantitative","axis":null,"scale":{"domain":[-168.85,48.26],"nice":false,"zero":false}},"y":{"field":"v","type":"quantitative","axis":null,"scale":{"domain":[-68.65,84.6],"nice":false,"zero":false}}},
"layer":[{"data":{"name":"fl"},"encoding":{"y2":{"field":"v2"}},"layer":[{"mark":{"type":"area","fill":"#000000"}},
{"mark":{"type":"area","blend":"screen","fill":{"gradient":"linear","x1":0.75,"y1":0.25,"x2":0.25,"y2":0.75,"stops":[{"offset":0,"color":"#000000"},{"offset":0.5,"color":"#c80000"},{"offset":1,"color":"#ff0000"}]}}},
{"mark":{"type":"area","blend":"screen","fill":{"gradient":"linear","x1":0.25,"y1":0.25,"x2":0.75,"y2":0.75,"stops":[{"offset":0,"color":"#004000"},{"offset":0.5,"color":"#00a800"},{"offset":1,"color":"#00ff00"}]}}},
{"mark":{"type":"area","blend":"screen","fill":"#000040"}}]},
{"data":{"name":"grid"},"mark":{"type":"rule","color":"#000000","strokeWidth":3.6,"opacity":0.85},"encoding":{"x2":{"field":"u2"},"y2":{"field":"v2"}}}]},
{"encoding":{"x":{"field":"x","type":"quantitative","axis":null,"scale":{"domain":[0,3102],"nice":false,"zero":false}},"y":{"field":"y","type":"quantitative","axis":null,"scale":{"domain":[1546,0],"nice":false,"zero":false}}},
"layer":[
{"data":{"name":"da"},"encoding":{"y2":{"field":"y2"}},"layer":[{"mark":{"type":"area","fill":"#000000"}},
{"mark":{"type":"area","blend":"screen","fill":{"gradient":"linear","x1":0,"y1":0.6,"x2":1,"y2":0.2,"stops":[{"offset":0,"color":"#ff0000"},{"offset":0.15,"color":"#f70000"},{"offset":0.35,"color":"#cc0000"},{"offset":0.55,"color":"#990000"},{"offset":0.75,"color":"#610000"},{"offset":1,"color":"#1e0000"}]}}},
{"mark":{"type":"area","blend":"screen","fill":{"gradient":"linear","x1":0.4,"y1":0,"x2":0.6,"y2":1,"stops":[{"offset":0,"color":"#006800"},{"offset":0.5,"color":"#008800"},{"offset":0.8,"color":"#00b400"},{"offset":1,"color":"#00c800"}]}}},
{"mark":{"type":"area","blend":"screen","fill":{"gradient":"linear","x1":0.2,"y1":0,"x2":0.6,"y2":1,"stops":[{"offset":0,"color":"#0000ff"},{"offset":0.32,"color":"#0000f2"},{"offset":0.66,"color":"#00008c"},{"offset":1,"color":"#000040"}]}}}]},
{"data":{"name":"db"},"encoding":{"y2":{"field":"y2"}},"layer":[{"mark":{"type":"area","fill":"#000000"}},
{"mark":{"type":"area","blend":"screen","fill":{"gradient":"linear","x1":0,"y1":0.6,"x2":1,"y2":0.2,"stops":[{"offset":0,"color":"#ff0000"},{"offset":0.15,"color":"#f70000"},{"offset":0.35,"color":"#cc0000"},{"offset":0.55,"color":"#990000"},{"offset":0.75,"color":"#610000"},{"offset":1,"color":"#1e0000"}]}}},
{"mark":{"type":"area","blend":"screen","fill":{"gradient":"linear","x1":0.4,"y1":0,"x2":0.6,"y2":1,"stops":[{"offset":0,"color":"#006800"},{"offset":0.5,"color":"#008800"},{"offset":0.8,"color":"#00b400"},{"offset":1,"color":"#00c800"}]}}},
{"mark":{"type":"area","blend":"screen","fill":{"gradient":"linear","x1":0.2,"y1":0,"x2":0.6,"y2":1,"stops":[{"offset":0,"color":"#0000ff"},{"offset":0.32,"color":"#0000f2"},{"offset":0.66,"color":"#00008c"},{"offset":1,"color":"#000040"}]}}}]},
{"data":{"name":"da"},"mark":{"type":"line","color":"#000000","strokeWidth":3,"opacity":0.75},"encoding":{"order":{"field":"x"}}},
{"data":{"name":"db"},"mark":{"type":"line","color":"#000000","strokeWidth":3,"opacity":0.75},"encoding":{"order":{"field":"x"}}},
{"data":{"name":"ax"},"mark":{"type":"rule","color":"#555555","strokeWidth":3},"encoding":{"x2":{"field":"x2"},"y2":{"field":"y2"}}},
{"data":{"name":"tk"},"mark":{"type":"rule","color":"#666666","strokeWidth":2},"encoding":{"x2":{"field":"x2"},"y2":{"field":"y2"}}},
{"data":{"name":"lab"},"mark":{"type":"text","font":"Open Sans","fontWeight":"bold","fontSize":54,"color":"#222222"},"encoding":{"text":{"field":"t"}}},
{"data":{"name":"ten"},"mark":{"type":"text","font":"Liberation Serif","fontSize":50,"color":"#5f4f45"},"encoding":{"text":{"field":"t"}}},
{"data":{"name":"exp"},"mark":{"type":"text","font":"Liberation Serif","fontSize":34,"color":"#5f4f45"},"encoding":{"text":{"field":"t"}}},
{"data":{"name":"nm"},"mark":{"type":"text","font":"Liberation Serif","fontStyle":"italic","fontSize":92,"color":"#333333"},"encoding":{"text":{"field":"t"}}},
{"data":{"name":"cap"},"mark":{"type":"text","font":"Liberation Serif","fontSize":78,"color":"#000000"},"encoding":{"text":{"field":"t"}}},
{"data":{"name":"capb"},"mark":{"type":"text","font":"Liberation Serif","fontWeight":"bold","fontSize":78,"color":"#000000"},"encoding":{"text":{"field":"t"}}}
]},
{"data":{"name":"mesh"},"encoding":{"x":{"field":"x","type":"quantitative","axis":null,"scale":{"domain":[-168.85,48.26],"nice":false,"zero":false}},"y":{"field":"y","type":"quantitative","axis":null,"scale":{"domain":[-68.65,84.6],"nice":false,"zero":false}}},
"layer":[{"mark":{"type":"line","color":"#000000","strokeWidth":2.2,"opacity":0.8},"encoding":{"detail":{"field":"j"},"order":{"field":"i"}}},{"mark":{"type":"line","color":"#000000","strokeWidth":2.6,"opacity":0.8},"encoding":{"detail":{"field":"i"},"order":{"field":"j"}}}]},
{"encoding":{"x":{"field":"x","type":"quantitative","axis":null,"scale":{"domain":[-44.7,137.76],"nice":false,"zero":false}},"y":{"field":"y","type":"quantitative","axis":null,"scale":{"domain":[-61.8,74.99],"nice":false,"zero":false}}},
"layer":[{"data":{"name":"mesh"},"mark":{"type":"line","color":"#000000","strokeWidth":2.2,"opacity":0.8},"encoding":{"detail":{"field":"j"},"order":{"field":"i"}}},{"data":{"name":"mesh"},"mark":{"type":"line","color":"#000000","strokeWidth":2.6,"opacity":0.8},"encoding":{"detail":{"field":"i"},"order":{"field":"j"}}},
{"data":{"name":"a2"},"mark":{"type":"line","color":"#000000","strokeWidth":2.6,"opacity":0.8},"encoding":{"detail":{"field":"i"},"order":{"field":"j"}}},
{"data":{"name":"a2"},"transform":[{"filter":"datum.j > 20"}],"mark":{"type":"line","color":"#000000","strokeWidth":2.2,"opacity":0.8},"encoding":{"detail":{"field":"j"},"order":{"field":"i"}}}]}
]}
